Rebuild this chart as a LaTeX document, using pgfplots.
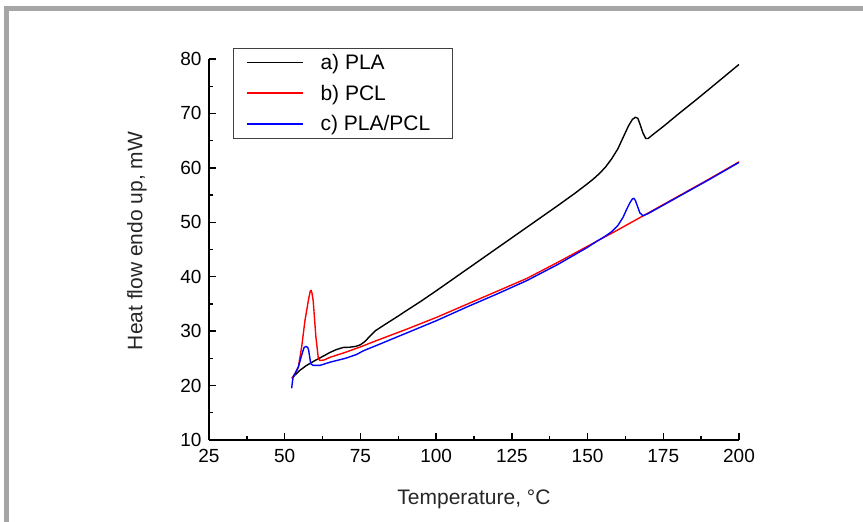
\documentclass[border=0pt]{standalone}
\usepackage{fontspec}
\setmainfont{Liberation Sans}
\usepackage{pgfplots}
\pgfplotsset{compat=1.18}
\definecolor{framegray}{RGB}{166,166,166}
\begin{document}
\begin{tikzpicture}
\path[use as bounding box] (-209pt,-82pt) rectangle (654pt,440pt);
\begin{axis}[
  at={(0pt,0pt)}, anchor=south west,
  scale only axis, width=530pt, height=381pt,
  xmin=25, xmax=200, ymin=10, ymax=80,
  axis x line*=bottom, axis y line*=left,
  axis line style={line width=1.6pt, -},
  xtick={25,50,...,200}, ytick={10,20,...,80},
  minor tick num=1,
  tick align=inside,
  major tick length=7pt, minor tick length=4pt,
  every tick/.style={black, line width=1.4pt},
  /pgf/number format/assume math mode=true,
  ticklabel style={font=\fontsize{19}{22}\selectfont},
  xticklabel style={yshift=-5.5pt},
  yticklabel style={xshift=-4pt},
  xlabel={Temperature, °C},
  ylabel={Heat flow endo up, mW},
  label style={font=\fontsize{21}{25}\selectfont, text=black!85},
  xlabel style={at={([yshift=-59.5pt]axis description cs:0.5,0)}, anchor=center},
  ylabel style={at={([xshift=-72pt,yshift=8.5pt]axis description cs:0,0.5)}, anchor=center, rotate=0},
  legend cell align=left,
  legend image code/.code={\draw[#1, line width=1.5pt] (0pt,0pt) -- (56pt,0pt);},
  legend style={at={(0.0453,1.0289)}, anchor=north west, draw=black!75, line width=0.7pt,
    font=\fontsize{21}{25}\selectfont, inner xsep=12.7pt, inner ysep=5.8pt,
    row sep=14pt, column sep=17pt, nodes={inner sep=0pt}},
]
\addplot[black, line width=1.4pt, line join=round] coordinates {
(52.8,21.6) (53.5,22.0) (55,22.8) (57.2,23.7) (60,24.6) (62.7,25.4) (65,26.1) (67,26.6) (69.3,27.0) (71.5,27.05) (73.5,27.2) (75,27.5) (76.5,28.1) (78,29.0) (80,30.1) (83.6,31.4) (87,32.6) (90,33.7) (95,35.5) (100,37.4) (110,41.3) (120,45.2) (130,49.1) (140,53.0) (146,55.4) (150,57.1) (152,58.0) (154,59.0) (156,60.2) (158,61.7) (160,63.5) (162,65.9) (163.5,67.7) (164.8,68.9) (165.8,69.3) (166.6,69.1) (167.4,67.9) (168.3,66.4) (169.2,65.4) (170,65.4) (172,66.3) (175,67.6) (180,69.9) (185.4,72.3) (190,74.4) (195,76.7) (200,79.0)
};
\addlegendentry{a) PLA}
\addplot[red, line width=1.4pt, line join=round] coordinates {
(52.3,21.3) (53.5,22.3) (54.5,23.4) (55.6,27.1) (56.7,32.0) (57.8,35.6) (58.4,37.3) (58.7,37.5) (59.0,37.0) (59.4,35.6) (60.3,28.9) (61.1,25.0) (61.6,24.6) (63,24.7) (65,25.2) (70,26.1) (75,27.1) (80,28.2) (90,30.3) (100,32.5) (110,34.9) (120,37.3) (130,39.7) (140,42.6) (150,45.6) (160,48.6) (170,51.7) (180,54.8) (190,57.9) (200,61.1)
};
\addlegendentry{b) PCL}
\addplot[blue, line width=1.4pt, line join=round] coordinates {
(52.3,19.5) (52.5,20.5) (52.8,21.6) (53.5,22.3) (54.5,23.4) (55.6,25.6) (56.4,27.0) (57.0,27.2) (57.6,27.0) (57.9,26.5) (58.6,24.0) (59.4,23.7) (61.6,23.7) (65,24.3) (70,25.0) (73.7,25.7) (76,26.4) (80,27.3) (90,29.6) (100,31.9) (110,34.4) (120,36.8) (130,39.3) (140,42.2) (150,45.4) (153,46.5) (156,47.5) (158,48.3) (160,49.4) (161.7,50.9) (163,52.5) (164,53.6) (164.8,54.3) (165.3,54.4) (165.8,54.0) (166.5,52.9) (167.3,51.7) (168.3,51.2) (170,51.6) (180,54.7) (190,57.8) (200,61.0)
};
\addlegendentry{c) PLA/PCL\hspace*{9.3pt}}
\end{axis}
\draw[framegray, line width=5pt] (-202.5pt,-82pt) |- (654pt,431.5pt);
\end{tikzpicture}
\end{document}
